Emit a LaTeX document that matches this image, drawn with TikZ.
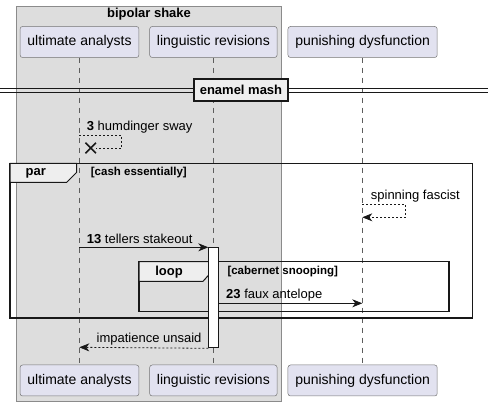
\documentclass[tikz,border=0pt]{standalone}
\usepackage{fontspec}
\setmainfont{Liberation Sans}
\usetikzlibrary{arrows.meta,shapes.misc}
\definecolor{partfill}{HTML}{E2E2F0}
\definecolor{boxgray}{HTML}{DDDDDD}
\definecolor{tabgray}{HTML}{EEEEEE}
\definecolor{linecol}{HTML}{181818}

\begin{document}
\begin{tikzpicture}[x=1pt,y=-1pt,
        actor/.style={draw=linecol!60,fill=partfill,rounded corners=2.5pt,line width=0.5pt,minimum height=31pt,inner xsep=7.3pt,font=\fontsize{14}{16}\selectfont},
        lifeline/.style={draw=linecol!70,line width=0.5pt,dash pattern=on 5pt off 5pt},
        msg/.style={draw=linecol,line width=0.8pt,-{Stealth[length=10pt,width=8pt,inset=3pt]}},
        reply/.style={msg,dash pattern=on 2pt off 2pt},
        msgtext/.style={font=\fontsize{13}{15}\selectfont,inner sep=0pt,anchor=west},
        framebox/.style={draw=linecol,line width=1.5pt},
        tab/.style={fill=tabgray,draw=linecol,line width=1pt},
        tabtext/.style={font=\bfseries\fontsize{13}{15}\selectfont,inner sep=0pt},
        guard/.style={font=\bfseries\fontsize{11.5}{13}\selectfont,inner sep=0pt,anchor=west}]

        \useasboundingbox (0,0) rectangle (488,406);

        % box round the first two participants
        \fill[boxgray] (16,6) rectangle (281.5,401);
        \draw[linecol!50,line width=0.5pt] (16,6) rectangle (281.5,401);
        \node[tabtext] (shake) at (149,14.5) {bipolar shake};

        \node[actor] (ua) at (79.5,42) {ultimate analysts};
        \node[actor] (lr) at (213.4,42) {linguistic revisions};
        \node[actor] (pd) at (362.6,42) {punishing dysfunction};
        \node[actor] (uab) at (79.5,380.5) {ultimate analysts};
        \node[actor] (lrb) at (213.4,380.5) {linguistic revisions};
        \node[actor] (pdb) at (362.6,380.5) {punishing dysfunction};

        \draw[lifeline] (ua) -- (uab);
        \draw[lifeline] (lr) -- (lrb);
        \draw[lifeline] (pd) -- (pdb);

        % divider
        \draw[linecol,line width=1pt] (0,88.2) -- (488,88.2);
        \draw[linecol,line width=1pt] (0,92.2) -- (488,92.2);
        \node[draw=linecol,line width=1.5pt,fill=tabgray,minimum height=22pt,inner xsep=6pt,font=\bfseries\fontsize{13}{15}\selectfont] (mash) at (241,90) {enamel mash};

        % 3: self message ending in a cross
        \coordinate (hs1) at (79.3,135.3);
        \coordinate (hs2) at (121.7,135.3);
        \coordinate (hs3) at (121.7,148);
        \node[cross out,draw=linecol,line width=1.5pt,minimum size=9pt,inner sep=0pt] (x3) at (90.7,148) {};
        \draw[linecol,line width=0.8pt,dash pattern=on 2pt off 2pt] (hs1) -- (hs2) -- (hs3) -- (x3.east);
        \node[msgtext] (t3) at (86.7,127) {\textbf{3} humdinger sway};

        % par
        \draw[framebox] (10,163.3) rectangle (472.7,318);
        \draw[tab] (10,163.3) -- (76.7,163.3) -- (76.7,172.3) -- (66.7,182.3) -- (10,182.3) -- cycle;
        \node[tabtext] (par) at (35.8,173) {par};
        \node[guard] (cash) at (90.7,173) {[cash essentially]};

        \coordinate (sf1) at (362.3,204.3);
        \coordinate (sf2) at (405.7,204.3);
        \coordinate (sf3) at (405.7,217.3);
        \coordinate (sf4) at (362.3,217.3);
        \draw[reply] (sf1) -- (sf2) -- (sf3) -- (sf4);
        \node[msgtext] (tsf) at (370.7,195.7) {spinning fascist};

        % loop
        \draw[framebox] (139,261.7) rectangle (449,311.5);
        \draw[tab] (139,261.7) -- (212.3,261.7) -- (212.3,271) -- (203,281.3) -- (139,281.3) -- cycle;
        \node[tabtext] (loop) at (169,272.5) {loop};
        \node[guard] (cab) at (227.3,271.7) {[cabernet snooping]};

        \node[fill=white,draw=linecol,line width=1pt,minimum width=10pt,minimum height=100pt,inner sep=0pt,anchor=north west] (act) at (208.3,247.3) {};

        \coordinate (ts) at (79.3,247.3);
        \draw[msg] (ts) -- (act.north west);
        \node[msgtext] (tts) at (86.7,239) {\textbf{13} tellers stakeout};

        \coordinate (fa) at (362.3,303.3);
        \draw[msg] (act.east |- fa) -- (fa);
        \node[msgtext] (tfa) at (226,295) {\textbf{23} faux antelope};

        \coordinate (iu) at (79.3,347.3);
        \draw[reply] (act.south west) -- (iu);
        \node[msgtext,anchor=east] (tiu) at (201.7,339) {impatience unsaid};

\end{tikzpicture}
\end{document}
